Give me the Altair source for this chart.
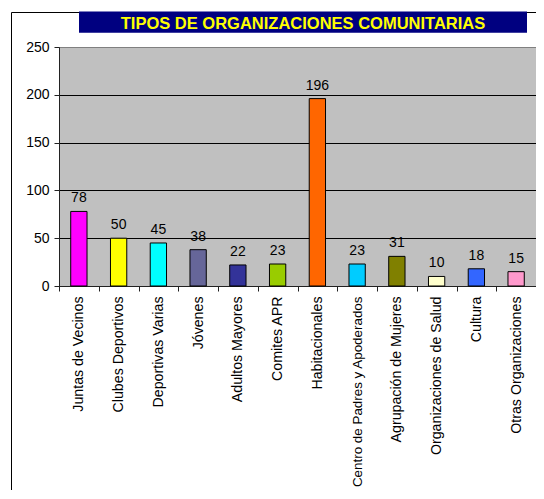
import altair as alt
import pandas as pd

categories = [
    "Juntas de Vecinos", "Clubes Deportivos", "Deportivas Varias", "Jóvenes",
    "Adultos Mayores", "Comites APR", "Habitacionales",
    "Centro de Padres y Apoderados", "Agrupación de Mujeres",
    "Organizaciones de Salud", "Cultura", "Otras Organizaciones",
]
values = [78, 50, 45, 38, 22, 23, 196, 23, 31, 10, 18, 15]
colors = [
    "#FF00FF", "#FFFF00", "#00FFFF", "#666699", "#333399", "#99CC00",
    "#FF6600", "#00CCFF", "#808000", "#FFFFCC", "#3366FF", "#FF99CC",
]
y_ticks = [0, 50, 100, 150, 200, 250]
title_text = "TIPOS DE ORGANIZACIONES COMUNITARIAS"

FONT = "Liberation Sans"

df = pd.DataFrame({"cat": categories, "val": values, "col": colors})
one = pd.DataFrame({"k": [0]})

x_enc = alt.X(
    "cat:N", sort=categories, title=None,
    scale=alt.Scale(paddingInner=0, paddingOuter=0),
    axis=alt.Axis(
        labelAngle=-90,
        labelFontSize={"condition": {"test": "length(datum.label) > 25", "value": 13.4},
                       "value": 14.2},
        labelFont=FONT, labelColor="#000000",
        labelLimit=0, labelPadding=5, tickSize=5, tickBand="extent",
        tickColor="#222222", domainColor="#222222", grid=False,
    ),
)
y_enc = alt.Y(
    "val:Q", title=None,
    scale=alt.Scale(domain=[0, 250], nice=False),
    axis=alt.Axis(
        values=y_ticks, labelFontSize=14, labelFont=FONT, labelColor="#000000",
        labelPadding=5, tickSize=5, tickColor="#222222", domainColor="#222222",
        grid=True,
        gridColor={"condition": {"test": "datum.value == 250", "value": "#808080"},
                   "value": "#000000"},
    ),
)

bars = alt.Chart(df).mark_bar(width=16.3, stroke="#000000", strokeWidth=1).encode(
    x=x_enc, y=y_enc, color=alt.Color("col:N", scale=None),
)

labels = alt.Chart(df).mark_text(
    baseline="alphabetic", dy=-9, fontSize=14, font=FONT, color="#000000"
).encode(x=alt.X("cat:N", sort=categories), y="val:Q", text="val:Q")

frame_top = alt.Chart(one).mark_rule(color="#000000", strokeWidth=1).encode(
    x=alt.value(-47.5), x2=alt.value(600), y=alt.value(-34.5)
)
frame_left = alt.Chart(one).mark_rule(color="#000000", strokeWidth=1).encode(
    x=alt.value(-47.5), y=alt.value(-34.5), y2=alt.value(600)
)
title_box = alt.Chart(one).mark_rect(color="#000080").encode(
    x=alt.value(20), x2=alt.value(468), y=alt.value(-35.5), y2=alt.value(-14.3)
)
title = alt.Chart(one).mark_text(
    fontSize=16.5, fontWeight="bold", font=FONT, color="#FFFF00",
    align="center", baseline="alphabetic",
).encode(x=alt.value(244), y=alt.value(-17.7), text=alt.value(title_text))

chart = alt.layer(bars, labels, frame_top, frame_left, title_box, title).properties(
    width=477, height=239,
    autosize=alt.AutoSizeParams(type="none"),
    padding={"left": 51, "top": 39, "right": 0, "bottom": 204},
    background="#FFFFFF",
).configure_view(fill="#C0C0C0", stroke="#808080", strokeWidth=1)

chart.save("out.html", embed_options={"renderer": "svg", "actions": False})
